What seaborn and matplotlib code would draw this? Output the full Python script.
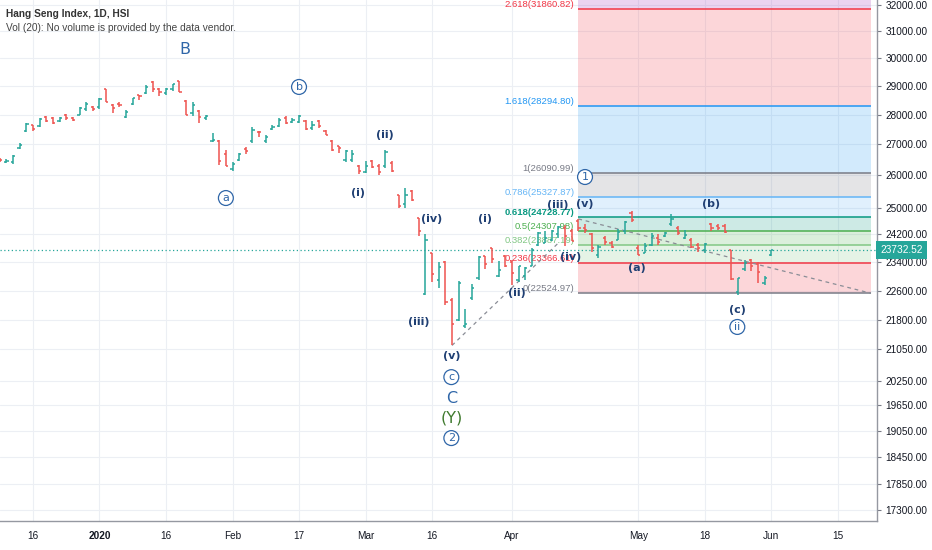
import numpy as np
import matplotlib
matplotlib.use("Agg")
import matplotlib.pyplot as plt
import matplotlib.transforms as mtransforms
from matplotlib.ticker import NullLocator
import seaborn as sns

# ------------------------------------------------------------------
# HSI daily bars, x = trading-day index (0 = 16 Dec 2019)
first_idx = -5
opens = [26500, 26420, 26420, 26880, 27450, 27640, 27600, 27920, 27880, 27780,
         27990, 27900, 28000, 28200, 28250, 28250, 28880, 28330, 28350, 27930,
         28360, 28680, 28750, 29150, 28900, 28760, 28880, 29170, 28480, 28050,
         28140, 27900, 27100, 27100, 26700, 26200, 26480, 26850, 27100, 27420,
         27100, 27500, 27620, 27900, 27750, 27760, 27800, 27560, 27800, 27450,
         27100, 26950, 26500, 26480, 26300, 26100, 26450, 26300, 26300, 26400,
         25400, 25100, 25500, 24700, 22500, 23650, 22900, 23400, 22350, 21800,
         21650, 22400, 22950, 23580, 23800, 23000, 23580, 23400, 22900, 23000,
         23300, 23900, 23950, 24030, 24200, 24400, 24300, 24600, 24400, 24200,
         23600, 24100, 23950, 24050, 24300, 24850, 23800, 23650, 23900, 24100,
         24150, 24500, 24400, 24100, 24050, 23900, 23750, 24500, 24450, 24450,
         23750, 22550, 23200, 23450, 23350, 22800, 23600]
highs = [26560, 26520, 26660, 27040, 27720, 27650, 27900, 27950, 27920, 27910,
         28020, 27910, 28250, 28420, 28280, 28560, 28890, 28380, 28420, 28150,
         28580, 28690, 29030, 29170, 28920, 28940, 29080, 29180, 28500, 28420,
         28160, 27990, 27370, 27150, 26820, 26420, 26720, 26920, 27580, 27440,
         27300, 27650, 27880, 27950, 27880, 28000, 27820, 27780, 27830, 27480,
         27150, 26950, 26820, 26820, 26330, 26450, 26500, 26380, 26820, 26450,
         25400, 25600, 25550, 24700, 24200, 23650, 23400, 23430, 22390, 22860,
         22100, 22770, 23570, 23580, 23800, 23420, 23600, 23450, 23300, 23250,
         23800, 24270, 24300, 24330, 24450, 24480, 24350, 24650, 24500, 24250,
         23900, 24150, 24000, 24350, 24600, 24900, 23900, 23950, 24250, 24200,
         24280, 24800, 24450, 24330, 24100, 23950, 23950, 24550, 24500, 24500,
         23750, 22950, 23450, 23500, 23400, 23000, 23750]
lows = [26440, 26400, 26380, 26860, 27430, 27460, 27590, 27750, 27680, 27750,
        27820, 27780, 27990, 28140, 28110, 28190, 28420, 28040, 28260, 27870,
        28330, 28500, 28720, 28770, 28650, 28680, 28810, 28770, 27990, 27950,
        27720, 27820, 27080, 26330, 26300, 26150, 26460, 26690, 27050, 27250,
        27060, 27480, 27580, 27680, 27700, 27700, 27480, 27480, 27560, 27300,
        26800, 26720, 26440, 26420, 26050, 26080, 26250, 26000, 26250, 26100,
        24990, 25000, 25200, 24150, 22480, 22850, 22680, 22200, 21139, 21770,
        21600, 22350, 22900, 23200, 23370, 22980, 23250, 22750, 22850, 22900,
        23280, 23850, 23950, 24000, 24100, 23860, 24000, 24300, 24250, 23680,
        23520, 23900, 23800, 24030, 24200, 24560, 23600, 23650, 23850, 23900,
        24130, 24450, 24180, 24060, 23800, 23700, 23650, 24300, 24330, 24250,
        22900, 22480, 23150, 23150, 22800, 22750, 23560]
closes = [26480, 26450, 26640, 26990, 27690, 27510, 27840, 27800, 27730, 27880,
          27870, 27830, 28220, 28350, 28190, 28540, 28450, 28230, 28320, 28090,
          28560, 28640, 28950, 28890, 28770, 28880, 29050, 28800, 28000, 28340,
          27910, 27950, 27160, 26450, 26310, 26360, 26680, 26790, 27490, 27400,
          27240, 27580, 27820, 27730, 27815, 27950, 27530, 27656, 27610, 27310,
          26820, 26890, 26780, 26700, 26130, 26290, 26280, 26100, 26770, 26150,
          25040, 25390, 25230, 24310, 24030, 23060, 23260, 22290, 21710, 22800,
          21700, 22660, 23530, 23350, 23480, 23175, 23300, 23085, 23280, 23236,
          23750, 24250, 24100, 24300, 24430, 24145, 24006, 24380, 24330, 23790,
          23840, 23980, 23830, 24280, 24580, 24640, 23610, 23870, 24140, 23980,
          24230, 24650, 24245, 24180, 23830, 23800, 23930, 24390, 24400, 24280,
          22930, 22950, 23380, 23300, 23130, 22960, 23732.52]
last_price = 23732.52

date_ticks = [0, 10, 20, 30, 40, 50, 60, 72, 91, 101, 111, 121]
date_labels = ['16', '2020', '16', 'Feb', '17', 'Mar', '16', 'Apr', 'May', '18', 'Jun', '15']
price_ticks = [17300, 17850, 18450, 19050, 19650, 20250, 21050, 21800, 22600, 23400,
               24200, 25000, 26000, 27000, 28000, 29000, 30000, 31000, 32000]

# fib retracement drawn from 17 Apr to the right
fib_start, fib_end = 82, 126
fib_names = ['0', '0.236', '0.382', '0.5', '0.618', '0.786', '1', '1.618', '2.618', '3.618']
fib_prices = [22524.97, 23366.61, 23887.19, 24307.98, 24728.77, 25327.87, 26090.99,
              28294.80, 31860.82, 35426.84]
fib_colors = ['#787b86', '#f23645', '#81c784', '#4caf50', '#089981', '#64b5f6',
              '#787b86', '#2196f3', '#f23645', '#9c27b0']

# elliott wave labels: text, bar index, price, style
wave_labels = [
    ('B', 22.8, 30300, 'big'), ('b', 40.0, 28960, 'circle'), ('a', 29.0, 25296, 'circle'),
    ('(ii)', 52.9, 27315, 'paren'), ('(i)', 48.9, 25450, 'paren'),
    ('(iv)', 60.0, 24656, 'paren'), ('(i)', 68.0, 24656, 'paren'),
    ('(iii)', 58.0, 21750, 'paren'), ('(v)', 62.9, 20870, 'paren'),
    ('c', 62.9, 20339, 'circle'), ('C', 62.9, 19828, 'big'), ('(Y)', 62.9, 19350, 'green'),
    ('2', 62.9, 18884, 'circle'),
    ('(ii)', 72.8, 22535, 'paren'), ('(iii)', 78.9, 25082, 'paren'), ('(v)', 83.0, 25110, 'paren'),
    ('(iv)', 80.8, 23543, 'paren'), ('(a)', 90.8, 23229, 'paren'), ('(b)', 102.0, 25110, 'paren'),
    ('(c)', 105.9, 22070, 'paren'), ('ii', 105.9, 21620, 'circle'), ('1', 83.0, 25952, 'circle'),
]
wave_line_x = [63, 79]
wave_line_y = [21139, 23950]
trend_line_x = [82, 126]
trend_line_y = [24660, 22525]

# ------------------------------------------------------------------
sns.set_theme(style='white')
plt.rcParams['font.family'] = ['Liberation Sans', 'DejaVu Sans']

up_col, down_col = '#26a69a', '#ef5350'
navy = '#1f3f73'
blue = '#2f66a8'

fig = plt.figure(figsize=(9.32, 5.5), dpi=100)
ax = fig.add_axes([0, 29 / 550, 877 / 932, 521 / 550])
ax.set_yscale('log')
ax.set_ylim(17070, 32195)
ax.set_xlim(-4.96, 126.9)

# grid
for xt in date_ticks:
    ax.axvline(xt, color='#eceff4', lw=0.8, zorder=0)
for yt in price_ticks:
    ax.axhline(yt, color='#eceff4', lw=0.8, zorder=0)

# fib zones
for k in range(len(fib_prices) - 1):
    ax.fill_between([fib_start, fib_end], fib_prices[k], fib_prices[k + 1],
                    color=fib_colors[k + 1], alpha=0.2, lw=0, zorder=1)
for k in range(len(fib_prices) - 1):
    ax.hlines(fib_prices[k], fib_start, fib_end, color=fib_colors[k], lw=1.1, zorder=2)
    ax.text(fib_start - 0.6, fib_prices[k], f'{fib_names[k]}({fib_prices[k]:.2f})',
            ha='right', va='bottom', fontsize=6.8, color=fib_colors[k], zorder=2,
            fontweight='bold' if fib_names[k] == '0.618' else 'normal')

# OHLC bars
x = np.arange(first_idx, first_idx + len(opens))
o = np.array(opens)
c = np.array(closes)
cols = np.where(c >= o, up_col, down_col)
ax.vlines(x, lows, highs, colors=cols, lw=1.1, zorder=4)
ax.hlines(o, x - 0.33, x, colors=cols, lw=1.1, zorder=4)
ax.hlines(c, x, x + 0.33, colors=cols, lw=1.1, zorder=4)

# dashed helper lines
sns.lineplot(x=wave_line_x, y=wave_line_y, ax=ax, color='#8a8d96', lw=0.9,
             linestyle=(0, (3, 3)), zorder=3)
sns.lineplot(x=trend_line_x, y=trend_line_y, ax=ax, color='#8a8d96', lw=0.9,
             linestyle=(0, (3, 3)), zorder=3)

# last price line + tag
ax.axhline(last_price, color=up_col, lw=0.9, ls=(0, (1, 2)), zorder=3)
trans = mtransforms.blended_transform_factory(ax.transAxes, ax.transData)
ax.text(1.004, last_price, f'{last_price:.2f}', transform=trans, ha='left', va='center',
        fontsize=7.3, color='white', clip_on=False,
        bbox=dict(boxstyle='square,pad=0.4', fc=up_col, ec='none'))

# wave labels
for txt, xi, yp, style in wave_labels:
    if style == 'paren':
        ax.text(xi, yp, txt, ha='center', va='center', fontsize=8, fontweight='bold',
                color=navy, family='DejaVu Sans', zorder=5)
    elif style == 'big':
        ax.text(xi, yp, txt, ha='center', va='center', fontsize=11.5, color=blue,
                family='DejaVu Sans', zorder=5)
    elif style == 'green':
        ax.text(xi, yp, txt, ha='center', va='center', fontsize=11.5, color='#3f7a2e',
                family='DejaVu Sans', zorder=5)
    else:
        ax.text(xi, yp, txt, ha='center', va='center', fontsize=8, color=blue,
                family='DejaVu Sans', zorder=5,
                bbox=dict(boxstyle='circle,pad=0.22', fc='white', ec=blue, lw=0.9))

# axes
ax.yaxis.tick_right()
ax.set_yticks(price_ticks)
ax.set_yticklabels([f'{p:.2f}' for p in price_ticks])
ax.yaxis.set_minor_locator(NullLocator())
ax.set_xticks(date_ticks)
ax.set_xticklabels(date_labels)
for lbl in ax.get_xticklabels():
    if lbl.get_text() == '2020':
        lbl.set_fontweight('bold')
ax.tick_params(axis='both', labelsize=7.2, colors='#131722', length=3, width=0.8,
               direction='out')
ax.tick_params(axis='y', color='#787b86', pad=3)
ax.tick_params(axis='x', color='#787b86', pad=4)
for side in ['top', 'left']:
    ax.spines[side].set_visible(False)
for side in ['right', 'bottom']:
    ax.spines[side].set_color('#9598a1')
    ax.spines[side].set_linewidth(1.0)

fig.text(0.006, 1 - 14 / 550, 'Hang Seng Index, 1D, HSI', fontsize=7.3, fontweight='bold',
         color='#333333', va='center')
fig.text(0.006, 1 - 28 / 550, 'Vol (20): No volume is provided by the data vendor.',
         fontsize=7.3, color='#444444', va='center')

fig.savefig('out.png', dpi=100)
